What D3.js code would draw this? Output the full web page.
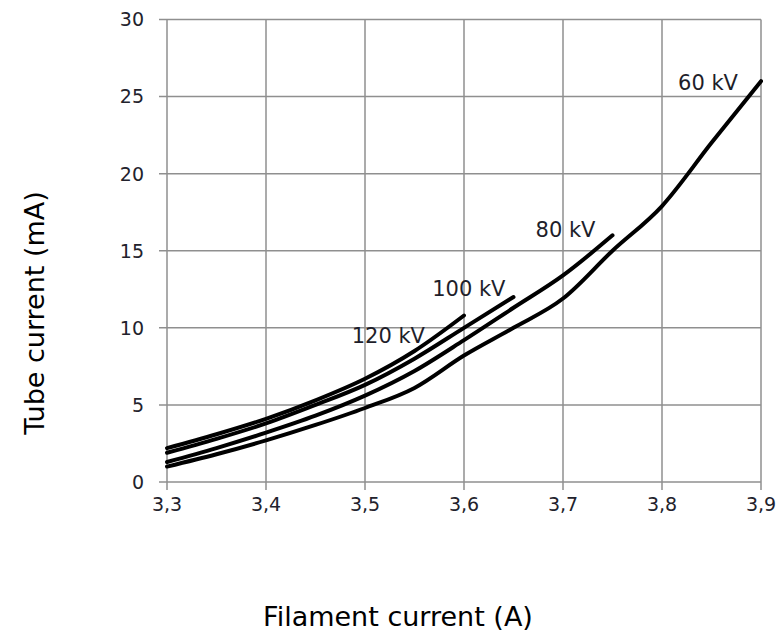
<!DOCTYPE html>
<html>
<head>
<meta charset="utf-8">
<script src="https://cdn.jsdelivr.net/npm/d3@7"></script>
<style>
  body { margin: 0; background: #fff; }
  svg { display: block; }
  .grid line { stroke: #8f8f8f; stroke-width: 1.5; }
  .axis text { font-family: "DejaVu Sans", Verdana, sans-serif; font-size: 19px; fill: #22222c; }
  .curve { fill: none; stroke: #000; stroke-width: 4; stroke-linecap: round; }
  .lbl { font-family: "DejaVu Sans", Verdana, sans-serif; font-size: 21px; fill: #1e1e2a; }
  .title { font-family: "DejaVu Sans", Verdana, sans-serif; font-size: 27px; fill: #000; }
</style>
</head>
<body>
<script>
const [width, height] = [778, 633];
const margin = { top: 19.5, right: 17, bottom: 151, left: 167 };

// filament current (A) per series
const x120 = [3.3, 3.35, 3.4, 3.45, 3.5, 3.55, 3.6];
const y120 = [2.2, 3.1, 4.1, 5.3, 6.7, 8.5, 10.8];

const x100 = [3.3, 3.35, 3.4, 3.45, 3.5, 3.55, 3.6, 3.65];
const y100 = [1.9, 2.8, 3.8, 5.0, 6.3, 8.0, 10.0, 12.0];

const x80 = [3.3, 3.35, 3.4, 3.45, 3.5, 3.55, 3.6, 3.65, 3.7, 3.75];
const y80 = [1.3, 2.2, 3.2, 4.3, 5.6, 7.2, 9.2, 11.3, 13.4, 16.0];

const x60 = [3.3, 3.35, 3.4, 3.45, 3.5, 3.55, 3.6, 3.65, 3.7, 3.75, 3.8, 3.85, 3.9];
const y60 = [1.0, 1.8, 2.7, 3.7, 4.8, 6.1, 8.2, 10.0, 11.9, 15.0, 17.9, 22.0, 26.0];

const seriesNames = ["120 kV", "100 kV", "80 kV", "60 kV"];
const xTicks = [3.3, 3.4, 3.5, 3.6, 3.7, 3.8, 3.9];
const yTicks = [0, 5, 10, 15, 20, 25, 30];

const series = [
  { name: seriesNames[0], xs: x120, ys: y120 },
  { name: seriesNames[1], xs: x100, ys: y100 },
  { name: seriesNames[2], xs: x80, ys: y80 },
  { name: seriesNames[3], xs: x60, ys: y60 }
].map(s => ({ name: s.name, points: s.xs.map((x, i) => [x, s.ys[i]]) }));

// label offsets from each curve's end point (px)
const labelOffset = {
  "120 kV": [-39, 27],
  "100 kV": [-8, -1],
  "80 kV": [-17, 2],
  "60 kV": [-23, 9]
};

const x = d3.scaleLinear().domain([3.3, 3.9]).range([margin.left, width - margin.right]);
const y = d3.scaleLinear().domain([0, 30]).range([height - margin.bottom, margin.top]);

const svg = d3.select("body").append("svg")
  .attr("width", width)
  .attr("height", height);

const grid = svg.append("g").classed("grid", true);

grid.selectAll(".h")
  .data(yTicks)
  .enter()
  .append("line")
  .attr("x1", x.range()[0] - 8)
  .attr("x2", x.range()[1])
  .attr("y1", d => y(d))
  .attr("y2", d => y(d));

grid.selectAll(".v")
  .data(xTicks)
  .enter()
  .append("line")
  .attr("x1", d => x(d))
  .attr("x2", d => x(d))
  .attr("y1", y.range()[1])
  .attr("y2", y.range()[0] + 8);

const fmt = d => d3.format(".1f")(d).replace(".", ",");

svg.append("g")
  .classed("axis", true)
  .selectAll("text")
  .data(xTicks)
  .enter()
  .append("text")
  .attr("x", d => x(d))
  .attr("y", y(0) + 29)
  .attr("text-anchor", "middle")
  .text(fmt);

svg.append("g")
  .classed("axis", true)
  .selectAll("text")
  .data(yTicks)
  .enter()
  .append("text")
  .attr("x", x.range()[0] - 23)
  .attr("y", d => y(d))
  .attr("dy", "0.36em")
  .attr("text-anchor", "end")
  .text(d => d);

const line = d3.line()
  .x(d => x(d[0]))
  .y(d => y(d[1]))
  .curve(d3.curveMonotoneX);

svg.append("g")
  .selectAll(".curve")
  .data(series)
  .enter()
  .append("path")
  .classed("curve", true)
  .attr("d", d => line(d.points));

svg.append("g")
  .selectAll(".lbl")
  .data(series)
  .enter()
  .append("text")
  .classed("lbl", true)
  .attr("text-anchor", "end")
  .attr("x", d => x(d.points[d.points.length - 1][0]) + labelOffset[d.name][0])
  .attr("y", d => y(d.points[d.points.length - 1][1]) + labelOffset[d.name][1])
  .text(d => d.name);

svg.append("text")
  .classed("title", true)
  .attr("text-anchor", "middle")
  .attr("x", 398)
  .attr("y", 626)
  .text("Filament current (A)");

svg.append("text")
  .classed("title", true)
  .attr("text-anchor", "middle")
  .attr("transform", "translate(44,313) rotate(-90)")
  .text("Tube current (mA)");
</script>
</body>
</html>
